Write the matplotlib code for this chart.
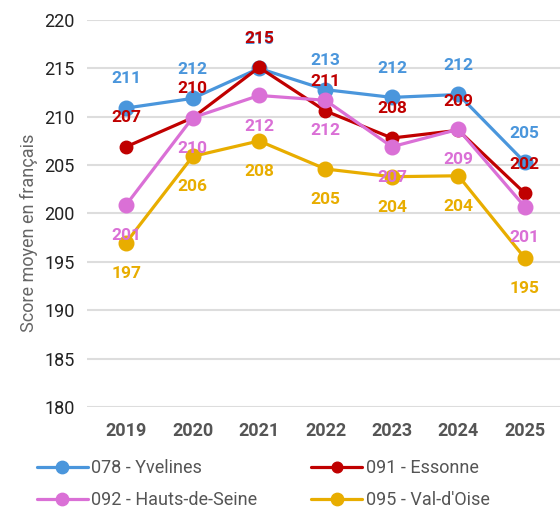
import matplotlib
matplotlib.use("Agg")
import matplotlib.pyplot as plt
import numpy as np

plt.rcParams['font.family'] = ['Roboto', 'DejaVu Sans']

years = ['2019', '2020', '2021', '2022', '2023', '2024', '2025']
yvelines = [210.9, 211.9, 215.0, 212.8, 212.0, 212.3, 205.3]
essonne = [206.9, 209.9, 215.1, 210.6, 207.8, 208.6, 202.1]
hauts_de_seine = [200.9, 209.9, 212.2, 211.7, 206.9, 208.7, 200.7]
val_doise = [197.0, 205.9, 207.5, 204.6, 203.8, 203.9, 195.4]

series = [
    ('078 - Yvelines', yvelines, '#4a96dc', 'o', 10.5, 'above'),
    ('091 - Essonne', essonne, '#c00000', 'o', 9.0, 'above'),
    ('092 - Hauts-de-Seine', hauts_de_seine, '#da70d6', 'o', 10.5, 'below'),
    ("095 - Val-d'Oise", val_doise, '#e8ad00', 'o', 10.5, 'below'),
]

fig = plt.figure(figsize=(5.6, 5.08), dpi=100)
ax = fig.add_axes([87/560, 1-407/508, (560-87)/560, (407-20)/508])

x = np.arange(len(years))
handles = []
for i, (name, vals, col, mk, ms, pos) in enumerate(series):
    h, = ax.plot(x, vals, color=col, lw=2.3, marker=mk, ms=ms, label=name,
                 zorder=3 + i, solid_capstyle='round')
    handles.append(h)
    off = 21 if pos == 'above' else -22
    for xi, v in zip(x, vals):
        ax.annotate(f"{v:.0f}", (xi, v), xytext=(0, off), textcoords='offset points',
                    ha='center', va='center', color=col, fontsize=12.5,
                    fontweight='bold', zorder=10)

ax.set_ylim(180, 220)
ax.set_xlim(-0.59, 6.53)
ax.set_yticks(np.arange(180, 221, 5))
ax.set_xticks(x)
ax.set_xticklabels(years, fontweight='bold', color='#555555', fontsize=13)
ax.tick_params(axis='y', labelsize=13, labelcolor='#222222', length=0, pad=9)
ax.tick_params(axis='x', length=0, pad=11)
ax.grid(axis='y', color='#dddddd', lw=1.5)
ax.set_axisbelow(True)
for s in ax.spines.values():
    s.set_visible(False)
ax.set_ylabel('Score moyen en français', fontsize=13, color='#666666')
ax.yaxis.set_label_coords(-0.103, 0.45)

order = [handles[0], handles[2], handles[1], handles[3]]
fig.legend(handles=order, loc='upper left', bbox_to_anchor=(37/560, 1-459/508),
           ncol=2, frameon=False, fontsize=13, handlelength=2.8, handletextpad=0.2,
           columnspacing=3.0, labelspacing=0.78, borderpad=0, borderaxespad=0,
           labelcolor='#555555', markerscale=0.85)

fig.savefig('out.png', dpi=100)
